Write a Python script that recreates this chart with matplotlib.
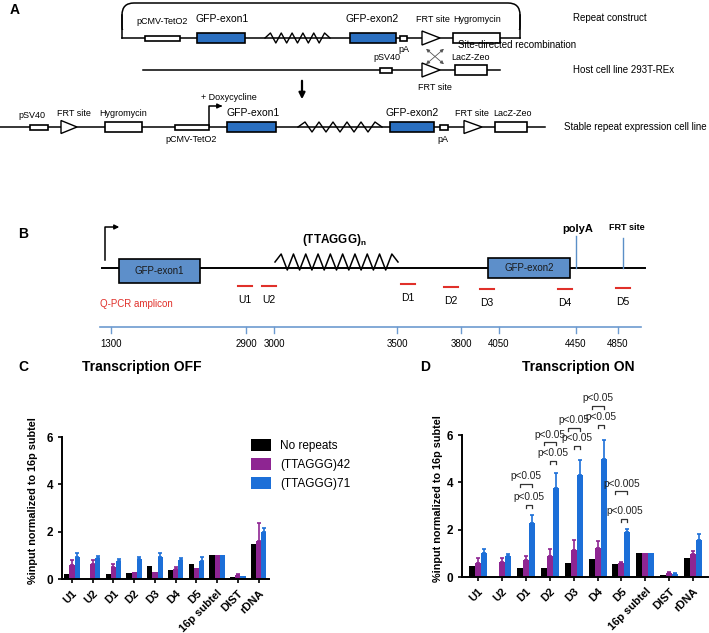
import numpy as np
import matplotlib.pyplot as plt
from matplotlib.patches import Rectangle, Polygon, FancyBboxPatch

plt.rcParams['font.family'] = ['Liberation Sans', 'DejaVu Sans']

# ChIP data (panels C and D)
sites = ['U1', 'U2', 'D1', 'D2', 'D3', 'D4', 'D5', '16p subtel', 'DIST', 'rDNA']
series = ['No repeats', '(TTAGGG)42', '(TTAGGG)71']
colors = ['#000000', '#8e2592', '#1c6fd8']

off_none = [0.22, 0.0, 0.22, 0.27, 0.55, 0.38, 0.62, 1.0, 0.07, 1.5]
off_r42 = [0.60, 0.65, 0.50, 0.30, 0.30, 0.43, 0.47, 1.0, 0.15, 1.60]
off_r71 = [0.95, 0.88, 0.75, 0.85, 0.95, 0.82, 0.75, 1.0, 0.12, 2.00]
off_none_err = [0.0, 0.0, 0.0, 0.0, 0.0, 0.0, 0.0, 0.0, 0.0, 0.0]
off_r42_err = [0.22, 0.15, 0.13, 0.0, 0.0, 0.09, 0.0, 0.0, 0.07, 0.75]
off_r71_err = [0.13, 0.10, 0.08, 0.10, 0.13, 0.06, 0.18, 0.0, 0.0, 0.15]

on_none = [0.45, 0.0, 0.40, 0.38, 0.58, 0.75, 0.55, 1.0, 0.08, 0.80]
on_r42 = [0.60, 0.62, 0.72, 0.90, 1.12, 1.22, 0.58, 1.0, 0.17, 0.97]
on_r71 = [1.00, 0.90, 2.30, 3.75, 4.30, 5.00, 1.92, 1.0, 0.13, 1.55]
on_none_err = [0.0, 0.0, 0.0, 0.0, 0.0, 0.0, 0.0, 0.0, 0.0, 0.0]
on_r42_err = [0.22, 0.18, 0.15, 0.28, 0.45, 0.30, 0.04, 0.0, 0.04, 0.13]
on_r71_err = [0.18, 0.07, 0.30, 0.65, 0.63, 0.80, 0.11, 0.0, 0.02, 0.27]

# significance brackets in D: (site index, from series, to series, bracket y, label)
brackets = [(2, 0, 2, 3.93, 'p<0.05'), (2, 1, 2, 3.04, 'p<0.05'),
            (3, 0, 2, 5.69, 'p<0.05'), (3, 1, 2, 4.90, 'p<0.05'),
            (4, 0, 2, 6.30, 'p<0.05'), (4, 1, 2, 5.54, 'p<0.05'),
            (5, 0, 2, 7.23, 'p<0.05'), (5, 1, 2, 6.43, 'p<0.05'),
            (6, 0, 2, 3.63, 'p<0.005'), (6, 1, 2, 2.46, 'p<0.005')]

# map coordinates for panel B
bp_pos = [1300, 2900, 3000, 3500, 3800, 4050, 4450, 4850]
bp_px = [111, 246, 274, 397, 461, 499, 576, 618]
amplicons = ['U1', 'U2', 'D1', 'D2', 'D3', 'D4', 'D5']
amp_x = [245, 269, 408, 451, 487, 565, 623]
amp_y = [286, 286, 284, 287, 289, 289, 288]

fig = plt.figure(figsize=(7.09, 6.33), dpi=100)
ax = fig.add_axes([0, 0, 1, 1])
ax.set_xlim(0, 709)
ax.set_ylim(633, 0)
ax.axis('off')

blue_a = '#2a6fc0'
blue_b = '#5d8fca'


def box(x0, x1, y, h, fc, lw=1.2):
    ax.add_patch(Rectangle((x0, y - h / 2), x1 - x0, h, fc=fc, ec='black', lw=lw, zorder=3))


def tri(x0, y, w=18, h=14):
    ax.add_patch(Polygon([[x0, y - h / 2], [x0, y + h / 2], [x0 + w, y]], closed=True,
                         fc='white', ec='black', lw=1.0, zorder=3))


def zigzag(x0, x1, y, n, amp, lw=1.0):
    xs = np.linspace(x0, x1, 2 * n + 1)
    ys = [y] + [y - amp if i % 2 == 0 else y + amp for i in range(2 * n - 1)] + [y]
    ax.plot(xs, ys, color='black', lw=lw, zorder=3)


def lab(x, y, s, size=6.5, **kw):
    kw.setdefault('ha', 'center')
    kw.setdefault('va', 'center')
    ax.text(x, y, s, fontsize=size, **kw)


# ---------------- panel A ----------------
ax.text(10, 10, 'A', fontsize=10, fontweight='bold', va='center')
# plasmid loop
ax.add_patch(FancyBboxPatch((122, 3), 398, 35, boxstyle='round,pad=0,rounding_size=12',
                            fc='none', ec='black', lw=1.1, zorder=2))
ax.add_patch(Rectangle((120, 30), 402, 14, fc='white', ec='none', zorder=2))
ax.plot([122, 520], [38, 38], color='black', lw=1.1, zorder=2)
ax.plot([122, 122], [15, 38], color='black', lw=1.1, zorder=2)
ax.plot([520, 520], [15, 38], color='black', lw=1.1, zorder=2)
box(145, 180, 38, 5, 'white')
lab(162, 22, 'pCMV-TetO2')
box(197, 245, 38, 10, blue_a)
lab(222, 19, 'GFP-exon1', 7.5)
zigzag(265, 330, 38, 6, 5)
box(350, 396, 38, 10, blue_a)
lab(372, 19, 'GFP-exon2', 7.5)
box(400, 407, 38, 5, 'white')
lab(404, 50, 'pA')
tri(422, 38)
lab(433, 19, 'FRT site')
box(453, 500, 38, 10, 'white')
lab(477, 19, 'Hygromycin')
lab(573, 18, 'Repeat construct', 7, ha='left')

# recombination arrows
ax.annotate('', xy=(446, 66), xytext=(424, 47),
            arrowprops=dict(arrowstyle='<|-|>', lw=0.6, color='#555555', mutation_scale=5))
ax.annotate('', xy=(424, 66), xytext=(446, 47),
            arrowprops=dict(arrowstyle='<|-|>', lw=0.6, color='#555555', mutation_scale=5))
lab(458, 45, 'Site-directed recombination', 7, ha='left')

# host line
ax.plot([143, 500], [70, 70], color='black', lw=1.1, zorder=2)
box(380, 392, 70, 5, 'white')
lab(387, 57, 'pSV40')
tri(422, 70)
lab(435, 87, 'FRT site')
box(455, 487, 70, 10, 'white')
lab(470, 57, 'LacZ-Zeo')
lab(573, 70, 'Host cell line 293T-REx', 7, ha='left')

ax.annotate('', xy=(302, 102), xytext=(302, 78),
            arrowprops=dict(arrowstyle='-|>', lw=1.6, color='black', mutation_scale=9))

# stable line
ax.plot([0, 545], [127, 127], color='black', lw=1.1, zorder=2)
box(30, 48, 127, 5, 'white')
lab(32, 116, 'pSV40')
tri(61, 127, 16, 13)
lab(74, 113, 'FRT site')
box(105, 142, 127, 10, 'white')
lab(123, 113, 'Hygromycin')
box(175, 209, 127, 5, 'white')
lab(191, 139, 'pCMV-TetO2')
ax.plot([209, 209, 220], [127, 106, 106], color='black', lw=1.1, zorder=2)
ax.annotate('', xy=(225, 106), xytext=(217, 106),
            arrowprops=dict(arrowstyle='-|>', lw=1.0, color='black', mutation_scale=7))
lab(201, 97, '+ Doxycycline', ha='left')
box(227, 276, 127, 10, blue_a)
lab(253, 113, 'GFP-exon1', 7.5)
zigzag(298, 382, 127, 6, 5)
box(390, 434, 127, 10, blue_a)
lab(412, 113, 'GFP-exon2', 7.5)
box(440, 448, 127, 5, 'white')
lab(443, 140, 'pA')
tri(464, 127, 18, 13)
lab(472, 113, 'FRT site')
box(495, 527, 127, 10, 'white')
lab(512, 113, 'LacZ-Zeo')
lab(564, 127, 'Stable repeat expression cell line', 7, ha='left')

# ---------------- panel B ----------------
ax.text(18, 234, 'B', fontsize=10, fontweight='bold', va='center')
ax.plot([102, 645], [268, 268], color='black', lw=1.4, zorder=2)
ax.plot([105, 105, 115], [260, 227, 227], color='black', lw=1.1)
ax.annotate('', xy=(122, 227), xytext=(112, 227),
            arrowprops=dict(arrowstyle='-|>', lw=1.0, color='black', mutation_scale=7))
box(119, 200, 271, 24, blue_b)
ax.text(159, 271, 'GFP-exon1', fontsize=7, ha='center', va='center', zorder=4, color='#1a1a1a')
zigzag(275, 398, 262, 10, 8, lw=1.1)
ax.text(334, 240, r'(TTAGGG)$_\mathregular{n}$', fontsize=8.5, fontweight='bold', ha='center', va='center')
box(488, 570, 268, 20, blue_b)
ax.text(529, 268, 'GFP-exon2', fontsize=7, ha='center', va='center', zorder=4, color='#1a1a1a')
ax.plot([576, 576], [236, 268], color='#5b8fc7', lw=1.0)
ax.text(578, 229, 'polyA', fontsize=8, fontweight='bold', ha='center', va='center')
ax.plot([623, 623], [238, 268], color='#5b8fc7', lw=1.0)
ax.text(627, 228, 'FRT site', fontsize=6.5, fontweight='bold', ha='center', va='center')
for name, x, y in zip(amplicons, amp_x, amp_y):
    ax.plot([x - 7, x + 7], [y, y], color='#e0302a', lw=1.5)
    ax.text(x, y + 14, name, fontsize=7.5, ha='center', va='center')
ax.text(100, 304, 'Q-PCR amplicon', fontsize=7, color='#e0302a', ha='left', va='center')
ax.plot([100, 641], [327, 327], color='#6d9bd0', lw=1.2)
for bp, x in zip(bp_pos, bp_px):
    ax.plot([x, x], [327, 333], color='#6d9bd0', lw=1.0)
    ax.text(x, 344, str(bp), fontsize=7, ha='center', va='center')


# ---------------- panels C and D ----------------
def bars(axb, vals, errs, spacing_left, spacing_right):
    x = np.arange(len(sites))
    w = 0.25
    for i, (v, e, c) in enumerate(zip(vals, errs, colors)):
        axb.bar(x + (i - 1) * w, v, w, color=c, label=series[i], zorder=2)
        e = np.array(e)
        m = e > 0
        axb.errorbar((x + (i - 1) * w)[m], np.array(v)[m], yerr=[np.zeros(m.sum()), e[m]],
                     fmt='none', ecolor=c, elinewidth=1.2, capsize=1.5, capthick=1.2, zorder=3)
    axb.set_xlim(spacing_left, spacing_right)
    axb.set_ylim(0, 6)
    axb.set_yticks([0, 2, 4, 6])
    axb.set_xticks(x)
    axb.set_xticklabels(sites, rotation=45, ha='right', rotation_mode='anchor',
                        fontsize=8, fontweight='bold')
    for t in axb.get_yticklabels():
        t.set_fontweight('bold')
        t.set_fontsize(8.5)
    axb.spines['top'].set_visible(False)
    axb.spines['right'].set_visible(False)
    axb.spines['left'].set_linewidth(1.4)
    axb.spines['bottom'].set_linewidth(1.4)
    axb.tick_params(width=1.2, length=3)
    axb.set_ylabel('%input normalized to 16p subtel', fontsize=7.8, fontweight='bold')
    axb.patch.set_alpha(0)


axc = fig.add_axes([62 / 709, (633 - 579) / 633, 207 / 709, 142 / 633])
bars(axc, [off_none, off_r42, off_r71], [off_none_err, off_r42_err, off_r71_err], -0.48, 9.5)
axc.yaxis.set_label_coords(-0.115, 0.55)
axc.legend(loc='upper left', bbox_to_anchor=(0.86, 1.06), frameon=False, fontsize=8.5,
           handlelength=1.7, handleheight=1.2, labelspacing=0.5)
fig.text(18 / 709, 1 - 367 / 633, 'C', fontsize=10, fontweight='bold', va='center')
fig.text(142 / 709, 1 - 367 / 633, 'Transcription OFF', fontsize=10, fontweight='bold', va='center', ha='center')

axd = fig.add_axes([462 / 709, (633 - 577) / 633, 246 / 709, 142 / 633])
bars(axd, [on_none, on_r42, on_r71], [on_none_err, on_r42_err, on_r71_err], -0.67, 9.62)
axd.yaxis.set_label_coords(-0.077, 0.55)
for site, a, b, y, txt in brackets:
    x0 = site + (a - 1) * 0.25
    x1 = site + (b - 1) * 0.25
    axd.plot([x0, x0, x1, x1], [y - 0.12, y, y, y - 0.12], color='#333333', lw=0.9, clip_on=False)
    axd.text((x0 + x1) / 2, y + 0.32, txt, fontsize=7.3, ha='center', va='center', color='#222222')
fig.text(420 / 709, 1 - 367 / 633, 'D', fontsize=10, fontweight='bold', va='center')
fig.text(578 / 709, 1 - 367 / 633, 'Transcription ON', fontsize=10, fontweight='bold', va='center', ha='center')

fig.savefig('out.png', dpi=100)
